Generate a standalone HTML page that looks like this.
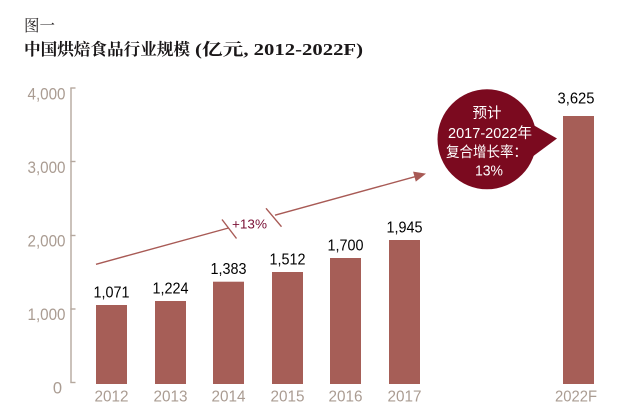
<!DOCTYPE html>
<html>
<head>
<meta charset="utf-8">
<style>
html,body{margin:0;padding:0;background:#fff;}
svg{display:block;}
</style>
</head>
<body>
<svg width="617" height="415" viewBox="0 0 617 415" xmlns="http://www.w3.org/2000/svg">
  <!-- Titles -->
  <text x="24" y="31" font-family="'Liberation Serif','Noto Serif CJK SC',serif" font-size="16" fill="#231f20" textLength="31" lengthAdjust="spacingAndGlyphs">图一</text>
  <text x="24" y="55" font-family="'Liberation Serif','Noto Serif CJK SC',serif" font-size="16.5" font-weight="bold" fill="#1a1718" textLength="166" lengthAdjust="spacingAndGlyphs">中国烘焙食品行业规模</text>
  <text x="195" y="55" font-family="'Liberation Serif','Noto Serif CJK SC',serif" font-size="16.5" font-weight="bold" fill="#1a1718" textLength="168" lengthAdjust="spacingAndGlyphs">(亿元, 2012-2022F)</text>

  <!-- Y axis -->
  <g stroke="#b5a89e" stroke-width="1.4" fill="none">
    <line x1="71" y1="88" x2="71" y2="382.5"/>
    <line x1="70.3" y1="88" x2="75.5" y2="88"/>
    <line x1="70.3" y1="161.5" x2="75.5" y2="161.5"/>
    <line x1="70.3" y1="235.5" x2="75.5" y2="235.5"/>
    <line x1="70.3" y1="309" x2="75.5" y2="309"/>
    <line x1="70.3" y1="382.5" x2="75.5" y2="382.5"/>
  </g>
  <g font-family="'Liberation Sans',sans-serif" font-size="16.5" fill="#aa9c92" text-anchor="end">
    <text x="65.5" y="99.5" textLength="38" lengthAdjust="spacingAndGlyphs">4,000</text>
    <text x="65.5" y="173" textLength="38" lengthAdjust="spacingAndGlyphs">3,000</text>
    <text x="65.5" y="246.5" textLength="38" lengthAdjust="spacingAndGlyphs">2,000</text>
    <text x="65.5" y="320" textLength="38" lengthAdjust="spacingAndGlyphs">1,000</text>
    <text x="62" y="393.5">0</text>
  </g>

  <!-- Bars -->
  <g fill="#a65e57">
    <rect x="96" y="305" width="31" height="79"/>
    <rect x="155" y="301" width="31" height="83"/>
    <rect x="213" y="281.7" width="31" height="102.3"/>
    <rect x="272" y="272" width="31" height="112"/>
    <rect x="330" y="258" width="31" height="126"/>
    <rect x="389" y="240" width="31" height="144"/>
    <rect x="563" y="116" width="31" height="268"/>
  </g>

  <!-- Value labels -->
  <g font-family="'Liberation Sans',sans-serif" font-size="16" fill="#000" text-anchor="middle">
    <text x="111.5" y="297.5" textLength="36" lengthAdjust="spacingAndGlyphs">1,071</text>
    <text x="170.5" y="293.5" textLength="36" lengthAdjust="spacingAndGlyphs">1,224</text>
    <text x="228.5" y="274" textLength="36" lengthAdjust="spacingAndGlyphs">1,383</text>
    <text x="287.5" y="264.5" textLength="36" lengthAdjust="spacingAndGlyphs">1,512</text>
    <text x="345.5" y="250.5" textLength="36" lengthAdjust="spacingAndGlyphs">1,700</text>
    <text x="404.5" y="232.5" textLength="36" lengthAdjust="spacingAndGlyphs">1,945</text>
    <text x="576" y="103.5" textLength="37" lengthAdjust="spacingAndGlyphs">3,625</text>
  </g>

  <!-- Year labels -->
  <g font-family="'Liberation Sans',sans-serif" font-size="16" fill="#aa9c92" text-anchor="middle">
    <text x="111.5" y="401.5" textLength="34" lengthAdjust="spacingAndGlyphs">2012</text>
    <text x="170.5" y="401.5" textLength="34" lengthAdjust="spacingAndGlyphs">2013</text>
    <text x="228.5" y="401.5" textLength="34" lengthAdjust="spacingAndGlyphs">2014</text>
    <text x="287.5" y="401.5" textLength="34" lengthAdjust="spacingAndGlyphs">2015</text>
    <text x="345.5" y="401.5" textLength="34" lengthAdjust="spacingAndGlyphs">2016</text>
    <text x="404.5" y="401.5" textLength="34" lengthAdjust="spacingAndGlyphs">2017</text>
    <text x="576" y="401.5" textLength="42" lengthAdjust="spacingAndGlyphs">2022F</text>
  </g>

  <!-- Trend arrow -->
  <g stroke="#a85a55" stroke-width="1.4" fill="none">
    <line x1="96" y1="264.3" x2="228.5" y2="228"/>
    <line x1="275" y1="215.2" x2="415" y2="176.7"/>
    <line x1="222" y1="219.5" x2="236.5" y2="238.5"/>
    <line x1="266" y1="208.3" x2="281.5" y2="226.7"/>
  </g>
  <polygon points="426,173.6 413.1,171.6 415.8,181.6" fill="#a85a55"/>
  <text x="232" y="228.5" font-family="'Liberation Sans',sans-serif" font-size="13" fill="#7a1035" textLength="35" lengthAdjust="spacingAndGlyphs">+13%</text>

  <!-- Bubble -->
  <ellipse cx="487" cy="139.3" rx="49.5" ry="50" fill="#7b0a1f"/>
  <polygon points="528,122 557,138.5 528,160" fill="#7b0a1f"/>
  <g font-family="'Liberation Sans','Noto Sans CJK SC',sans-serif" font-size="14.5" fill="#ffffff" text-anchor="middle">
    <text x="487" y="118">预计</text>
    <text x="490" y="138" textLength="84" lengthAdjust="spacingAndGlyphs">2017-2022年</text>
    <text x="486.5" y="157" textLength="81" lengthAdjust="spacingAndGlyphs">复合增长率：</text>
    <text x="489" y="175.5" textLength="28" lengthAdjust="spacingAndGlyphs">13%</text>
  </g>
</svg>
</body>
</html>
